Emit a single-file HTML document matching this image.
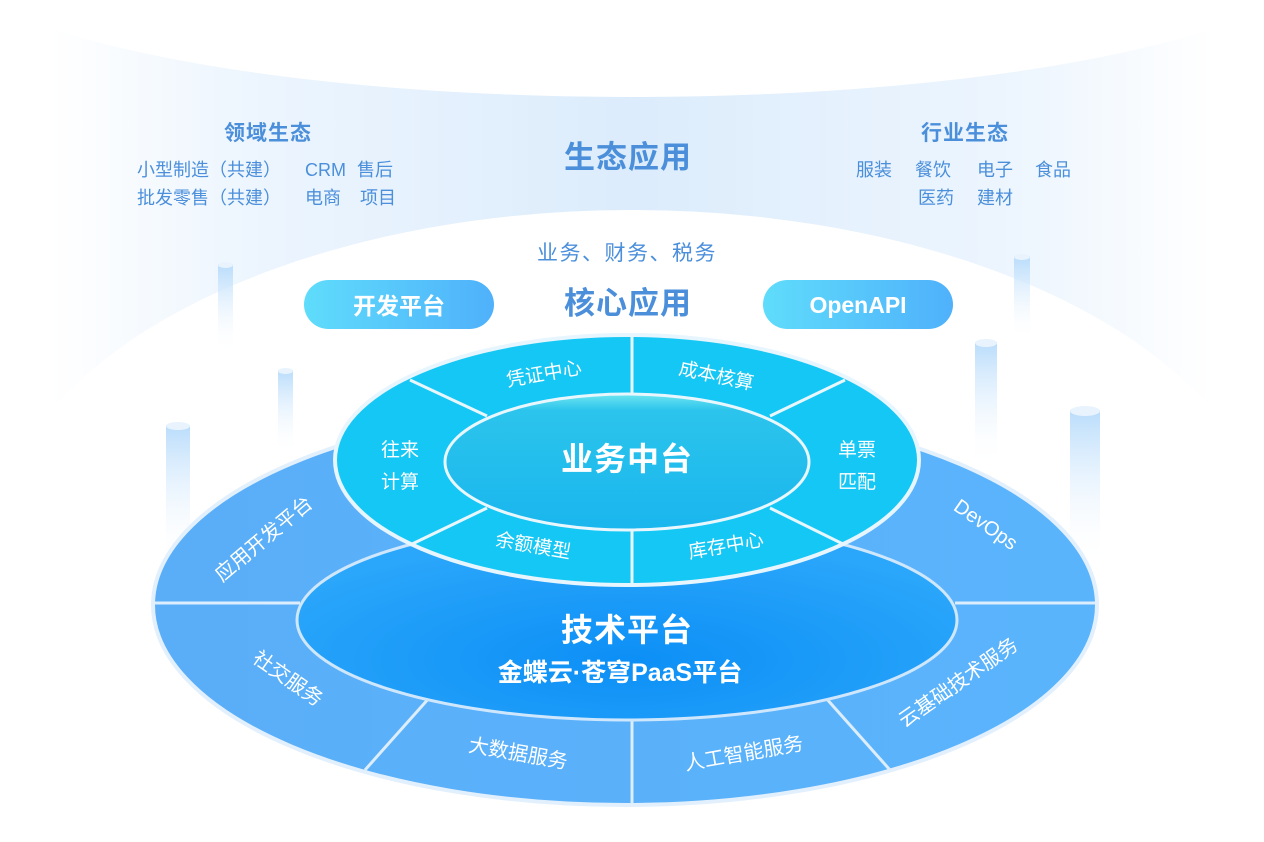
<!DOCTYPE html>
<html><head><meta charset="utf-8"><style>
html,body{margin:0;padding:0;background:#fff;overflow:hidden;width:1264px;height:842px}
svg{display:block}
text{font-family:"Liberation Sans","Noto Sans CJK SC",sans-serif}
</style></head><body>
<svg width="1264" height="842" viewBox="0 0 1264 842" xmlns="http://www.w3.org/2000/svg">
<defs>
<linearGradient id="band" x1="0" x2="1" y1="0" y2="0">
<stop offset="0.04" stop-color="#fff"/><stop offset="0.18" stop-color="#eef6fe"/><stop offset="0.5" stop-color="#dcecfc"/><stop offset="0.82" stop-color="#eef6fe"/><stop offset="0.96" stop-color="#fff"/></linearGradient>
<linearGradient id="pill" x1="0" x2="1"><stop offset="0" stop-color="#5fdcfb"/><stop offset="1" stop-color="#4fb1fb"/></linearGradient>
<linearGradient id="pil" x1="0" x2="0" y1="0" y2="1"><stop offset="0" stop-color="#b9dcfb"/><stop offset="1" stop-color="#ffffff" stop-opacity="0"/></linearGradient>
<linearGradient id="outer" x1="0" x2="1"><stop offset="0" stop-color="#5aaef8"/><stop offset="1" stop-color="#5ab4fc"/></linearGradient>
<radialGradient id="tech" cx="0.5" cy="0.7" r="0.6"><stop offset="0" stop-color="#0c8ff6"/><stop offset="1" stop-color="#2aa6fa"/></radialGradient>
<linearGradient id="inn" x1="0" x2="0" y1="0" y2="1"><stop offset="0" stop-color="#6ee6f0"/><stop offset="0.12" stop-color="#2cc4ec"/><stop offset="1" stop-color="#19b6ee"/></linearGradient>
</defs>
<rect x="0" y="0" width="1264" height="420" fill="url(#band)"/>
<ellipse cx="632" cy="-58" rx="700" ry="155" fill="#fff"/>
<ellipse cx="632" cy="555" rx="640" ry="345" fill="#fff"/>
<g fill="url(#pil)">
<rect x="218" y="264" width="15" height="90"/><ellipse cx="225.5" cy="265" rx="7.5" ry="3" fill="#e8f3fe"/>
<rect x="278" y="370" width="15" height="85"/><ellipse cx="285.5" cy="371" rx="7.5" ry="3" fill="#e8f3fe"/>
<rect x="166" y="425" width="24" height="140"/><ellipse cx="178" cy="426" rx="12" ry="4" fill="#e8f3fe"/>
<rect x="975" y="342" width="22" height="125"/><ellipse cx="986" cy="343" rx="11" ry="4" fill="#e8f3fe"/>
<rect x="1014" y="256" width="16" height="85"/><ellipse cx="1022" cy="257" rx="8" ry="3" fill="#e8f3fe"/>
<rect x="1070" y="410" width="30" height="155"/><ellipse cx="1085" cy="411" rx="15" ry="5" fill="#e8f3fe"/>
</g>
<g fill="#4b8fdb" font-weight="bold" text-anchor="middle">
<text x="268" y="140" font-size="21" letter-spacing="1">领域生态</text>
<text x="965" y="140" font-size="21" letter-spacing="1">行业生态</text>
<text x="628" y="168" font-size="31" letter-spacing="1">生态应用</text>
<text x="628" y="314" font-size="31" letter-spacing="1">核心应用</text>
</g>
<g font-size="18" fill="#4b8fdb">
<text x="137" y="176">小型制造（共建）</text><text x="305" y="176">CRM</text><text x="357" y="176">售后</text>
<text x="137" y="204">批发零售（共建）</text><text x="305" y="204">电商</text><text x="360" y="204">项目</text>
<text x="856" y="176">服装</text><text x="915" y="176">餐饮</text><text x="977" y="176">电子</text><text x="1035" y="176">食品</text>
<text x="918" y="204">医药</text><text x="977" y="204">建材</text>
<text x="627" y="260" font-size="21" letter-spacing="1.5" text-anchor="middle">业务、财务、税务</text>
</g>
<rect x="304" y="280" width="190" height="49" rx="24.5" fill="url(#pill)"/>
<rect x="763" y="280" width="190" height="49" rx="24.5" fill="url(#pill)"/>
<text x="399" y="314" font-size="23" fill="#fff" font-weight="bold" text-anchor="middle">开发平台</text>
<text x="858" y="313" font-size="23" fill="#fff" font-weight="bold" text-anchor="middle">OpenAPI</text>
<ellipse cx="625" cy="605" rx="472" ry="200" fill="url(#outer)" stroke="#e2f0fd" stroke-width="4"/>
<g stroke="#dcedfc" stroke-width="3">
<line x1="155" y1="603" x2="300" y2="603"/><line x1="955" y1="603" x2="1095" y2="603"/>
<line x1="365" y1="770" x2="430" y2="697"/><line x1="632" y1="718" x2="632" y2="804"/><line x1="890" y1="770" x2="825" y2="697"/>
</g>
<ellipse cx="627" cy="620" rx="330" ry="100" fill="url(#tech)" stroke="#cfe7fd" stroke-width="3"/>
<ellipse cx="627" cy="460" rx="292" ry="125" fill="#15c7f4" stroke="#e6f5fe" stroke-width="4"/>
<g stroke="#e8f7fe" stroke-width="3">
<line x1="632" y1="337" x2="632" y2="393"/><line x1="632" y1="530" x2="632" y2="585"/>
<line x1="410" y1="380" x2="487" y2="416"/><line x1="845" y1="380" x2="770" y2="416"/>
<line x1="410" y1="545" x2="487" y2="508"/><line x1="845" y1="545" x2="770" y2="508"/>
</g>
<ellipse cx="627" cy="462" rx="182" ry="68" fill="url(#inn)" stroke="#e8f7fe" stroke-width="3"/>
<g fill="#fff" font-weight="bold" text-anchor="middle">
<text x="627" y="470" font-size="32" letter-spacing="1">业务中台</text>
<text x="627" y="641" font-size="32" letter-spacing="1">技术平台</text>
<text x="620" y="681" font-size="25">金蝶云·苍穹PaaS平台</text>
<g font-size="19" font-weight="normal">
<text transform="translate(545,380) rotate(-10)">凭证中心</text>
<text transform="translate(715,382) rotate(12)">成本核算</text>
<text x="400" y="456">往来</text><text x="400" y="488">计算</text>
<text x="857" y="456">单票</text><text x="857" y="488">匹配</text>
<text transform="translate(532,552) rotate(10)">余额模型</text>
<text transform="translate(727,552) rotate(-10)">库存中心</text>
<text transform="translate(268,544) rotate(-40)" font-size="20">应用开发平台</text>
<text transform="translate(284,684) rotate(35)" font-size="20">社交服务</text>
<text transform="translate(517,760) rotate(10)" font-size="20">大数据服务</text>
<text transform="translate(745,760) rotate(-10)" font-size="20">人工智能服务</text>
<text transform="translate(962,688) rotate(-35)" font-size="20">云基础技术服务</text>
<text transform="translate(982,530) rotate(35)" font-size="20">DevOps</text>
</g>
</g>
</svg>
</body></html>
